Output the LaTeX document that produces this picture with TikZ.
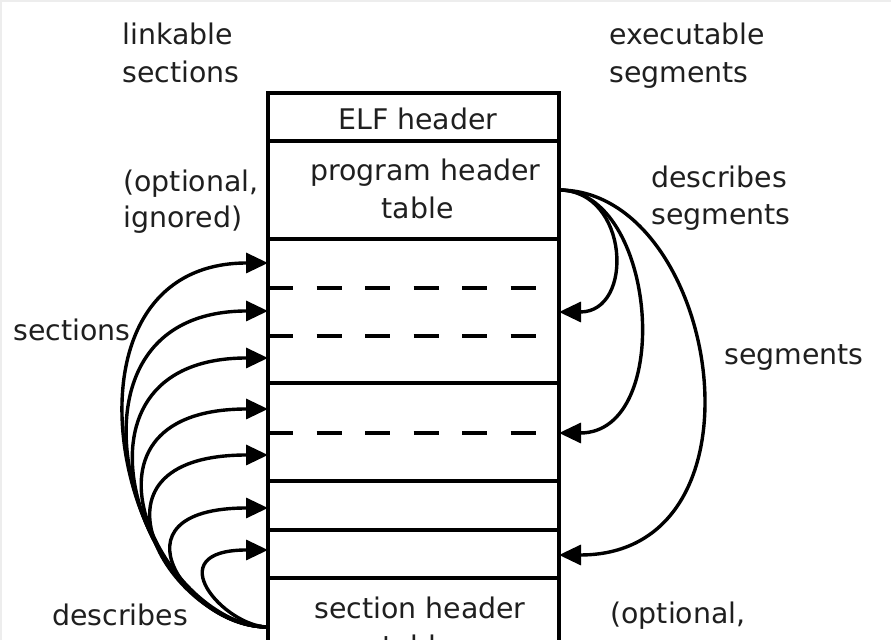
\documentclass[tikz,border=0pt]{standalone}
\usepackage{fontspec}
\setmainfont{DejaVu Sans}
\usetikzlibrary{arrows.meta}
\begin{document}
\begin{tikzpicture}[x=0.5pt,y=-0.5pt,
  txt/.style={font=\fontsize{14.2}{17}\selectfont, text=black!88, inner sep=0pt},
  lbl/.style={txt, anchor=base west},
  ctr/.style={txt, anchor=base},
  boxline/.style={line width=1.75pt},
  dashline/.style={line width=2.2pt, dash pattern=on 12.5pt off 11.75pt},
  arr/.style={line width=1.7pt, -{Triangle[length=11pt,width=10pt]}}]
\useasboundingbox (0,0) rectangle (891,640);
\clip (0,0) rectangle (891,640);
\fill[white] (0,0) rectangle (891,640);
\fill[black!7] (0,0) rectangle (891,2);
\fill[black!7] (0,0) rectangle (2,640);

% file layout box
\draw[boxline] (268,700) -- (268,93) -- (559,93) -- (559,700);
\foreach \y in {141,239,383,481,530,578}
  \draw[boxline] (268,\y) -- (559,\y);
\foreach \y in {288,336,433}
  \draw[dashline] (268,\y) -- (536,\y);

% texts
\node[lbl] (lk1) at (122,45) {linkable};
\node[lbl] (lk2) at (122,83) {sections};
\node[lbl] (ex1) at (609,45) {executable};
\node[lbl] (ex2) at (609,83) {segments};
\node[ctr] (elf) at (418,130) {ELF header};
\node[ctr] (ph1) at (425.5,181) {program header};
\node[ctr] (ph2) at (417.5,219) {table};
\node[lbl] (op1) at (123,192) {(optional,};
\node[lbl] (op2) at (123,228) {ignored)};
\node[lbl] (ds1) at (651,188) {describes};
\node[lbl] (ds2) at (651,225) {segments};
\node[lbl] (secl) at (13,341) {sections};
\node[lbl] (segl) at (724,365) {segments};
\node[lbl] (dsb) at (52,626) {describes};
\node[ctr] (sh1) at (420,619) {section header};
\node[ctr] (sh2) at (418,657) {table};
\node[lbl] (op3) at (610,624) {(optional,};

% connector anchors
\coordinate (sht) at (268,627);
\coordinate (pht) at (559,190);
\coordinate (s1) at (268,263);
\coordinate (s2) at (268,311);
\coordinate (s3) at (268,358);
\coordinate (s4) at (268,409);
\coordinate (s5) at (268,455);
\coordinate (s6) at (268,508);
\coordinate (s7) at (268,550);
\coordinate (g1) at (559,312);
\coordinate (g2) at (559,433);
\coordinate (g3) at (559,555);

% section header table describes sections
\draw[arr] (sht) .. controls +(-150,0) and +(-226,0) .. (s1);
\draw[arr] (sht) .. controls +(-134,0) and +(-228,0) .. (s2);
\draw[arr] (sht) .. controls +(-122,0) and +(-222,0) .. (s3);
\draw[arr] (sht) .. controls +(-102,0) and +(-215,0) .. (s4);
\draw[arr] (sht) .. controls +(-95,0) and +(-200,0) .. (s5);
\draw[arr] (sht) .. controls +(-78,0) and +(-165,0) .. (s6);
\draw[arr] (sht) .. controls +(-43,0) and +(-112,0) .. (s7);

% program header table describes segments
\draw[arr] (pht) .. controls +(70,0) and +(76,0) .. (g1);
\draw[arr] (pht) .. controls +(98,0) and +(116,0) .. (g2);
\draw[arr] (pht) .. controls +(160,0) and +(218,0) .. (g3);
\end{tikzpicture}
\end{document}
